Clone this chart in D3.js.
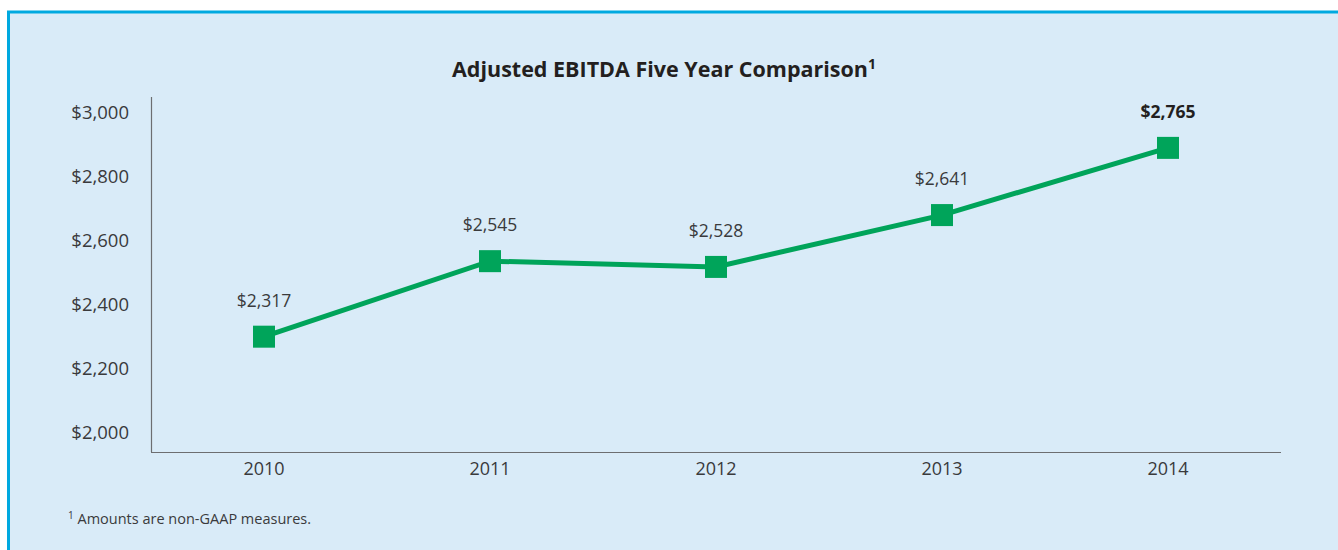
<!DOCTYPE html>
<html>
<head>
<meta charset="utf-8">
<script src="https://cdn.jsdelivr.net/npm/d3@7"></script>
<style>
  html, body { margin: 0; padding: 0; background: #ffffff; }
  svg { display: block; font-family: "Open Sans", "Noto Sans", sans-serif; }
</style>
</head>
<body>
<div id="chart"></div>
<script>
// data
const years = ["2010", "2011", "2012", "2013", "2014"];
const ebitda = [2301, 2537, 2519, 2681, 2891]; // plotted positions
const valueLabels = ["$2,317", "$2,545", "$2,528", "$2,641", "$2,765"];
const yTicks = [2000, 2200, 2400, 2600, 2800, 3000];

const W = 1338, H = 550;
const green = "#00a45a";
const textColor = "#3a3a3c";

const svg = d3.select("#chart")
  .append("svg")
  .attr("width", W)
  .attr("height", H);

// panel background + border
svg.append("rect")
  .attr("x", 8).attr("y", 12)
  .attr("width", W).attr("height", H)
  .attr("fill", "#d9ebf8");
svg.append("line")
  .attr("x1", 7).attr("x2", W).attr("y1", 12).attr("y2", 12)
  .attr("stroke", "#00a9e0").attr("stroke-width", 3);
svg.append("line")
  .attr("x1", 8.5).attr("x2", 8.5).attr("y1", 11).attr("y2", H)
  .attr("stroke", "#00a9e0").attr("stroke-width", 3);

// title
const title = svg.append("text")
  .attr("x", 664).attr("y", 77)
  .attr("text-anchor", "middle")
  .attr("font-size", 21.5)
  .attr("font-weight", "bold")
  .attr("fill", "#231f20")
  .text("Adjusted EBITDA Five Year Comparison");
title.append("tspan")
  .attr("font-size", 14)
  .attr("dy", -8)
  .text("1");

const x = d3.scaleBand()
  .domain(years)
  .range([151, 1281]);

const y = d3.scaleLinear()
  .domain([2000, 3000])
  .range([433, 113]);

// axes lines
svg.append("line")
  .attr("x1", 151.5).attr("x2", 151.5)
  .attr("y1", 97).attr("y2", 452)
  .attr("stroke", "#6d6e71").attr("stroke-width", 1.2);
svg.append("line")
  .attr("x1", 151).attr("x2", 1281)
  .attr("y1", 452.5).attr("y2", 452.5)
  .attr("stroke", "#6d6e71").attr("stroke-width", 1.2);

// y tick labels
const yAxis = svg.append("g")
  .attr("transform", "translate(151,0)")
  .call(d3.axisLeft(y).tickValues(yTicks).tickSize(0).tickPadding(22)
    .tickFormat(d => "$" + d3.format(",")(d)));
yAxis.select(".domain").remove();
yAxis.selectAll("text")
  .attr("font-size", 18.5)
  .attr("font-family", "Open Sans")
  .attr("fill", textColor);

// x tick labels
const xAxis = svg.append("g")
  .attr("transform", "translate(0,452)")
  .call(d3.axisBottom(x).tickSize(0).tickPadding(10));
xAxis.select(".domain").remove();
xAxis.selectAll("text")
  .attr("font-size", 18)
  .attr("font-family", "Open Sans")
  .attr("fill", textColor);

const cx = d => x(d) + x.bandwidth() / 2;

const points = years.map((yr, i) => ({ year: yr, value: ebitda[i], label: valueLabels[i] }));

svg.append("path")
  .datum(points)
  .attr("fill", "none")
  .attr("stroke", green)
  .attr("stroke-width", 5)
  .attr("d", d3.line().x(d => cx(d.year)).y(d => y(d.value)));

const sz = 22;
svg.selectAll(".marker")
  .data(points)
  .enter()
  .append("rect")
  .attr("class", "marker")
  .attr("x", d => cx(d.year) - sz / 2)
  .attr("y", d => y(d.value) - sz / 2)
  .attr("width", sz).attr("height", sz)
  .attr("fill", green);

svg.selectAll(".vlabel")
  .data(points)
  .enter()
  .append("text")
  .attr("class", "vlabel")
  .attr("x", d => cx(d.year))
  .attr("y", d => y(d.value) - 30)
  .attr("text-anchor", "middle")
  .attr("font-size", 17.5)
  .attr("font-weight", (d, i) => i === points.length - 1 ? "bold" : "normal")
  .attr("fill", (d, i) => i === points.length - 1 ? "#231f20" : textColor)
  .text(d => d.label);

// footnote
const foot = svg.append("text")
  .attr("x", 68).attr("y", 524)
  .attr("font-size", 14.5)
  .attr("fill", textColor);
foot.append("tspan").attr("font-size", 10).attr("dy", -5).text("1");
foot.append("tspan").attr("dy", 5).text(" Amounts are non-GAAP measures.");
</script>
</body>
</html>
